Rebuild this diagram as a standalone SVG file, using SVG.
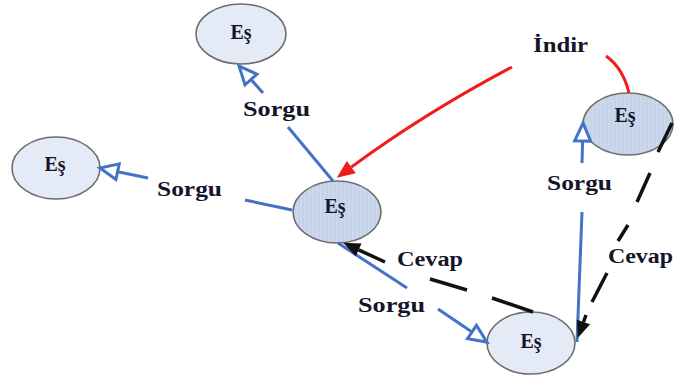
<svg xmlns="http://www.w3.org/2000/svg" width="675" height="380" viewBox="0 0 675 380">
  <style>
    .peer-light { fill: #e5ebf6; stroke: #6e6e6e; stroke-width: 1.6; }
    .peer-dark { fill: url(#grain); stroke: #6e6e6e; stroke-width: 1.6; }
    .name { font-family: "Liberation Serif", "Times New Roman", serif; font-weight: bold; font-size: 20px; fill: #15152a; text-anchor: middle; }
    .lbl { font-family: "Liberation Serif", "Times New Roman", serif; font-weight: bold; font-size: 20px; fill: #15152a; }
    .query { fill: none; stroke: #4472c4; stroke-width: 3; }
    .reply { fill: none; stroke: #111111; stroke-width: 3.5; }
    .download { fill: none; stroke: #f21b1b; stroke-width: 3; }
  </style>
  <defs>
    <pattern id="grain" width="4" height="10" patternUnits="userSpaceOnUse">
      <rect width="4" height="10" fill="#c4d3e9"/>
      <line x1="1" y1="0" x2="1" y2="10" stroke="#d4dff0" stroke-width="1"/>
    </pattern>
    <!-- open triangle head for query links -->
    <marker id="openHead" markerUnits="userSpaceOnUse" markerWidth="24" markerHeight="24" viewBox="-3 -12 24 24" refX="0" refY="0" orient="auto" overflow="visible">
      <path d="M0,-8 L18,0 L0,8 Z" fill="#ffffff" stroke="#4472c4" stroke-width="3" stroke-linejoin="miter"/>
    </marker>
    <!-- filled head for reply links -->
    <marker id="blackHead" markerUnits="userSpaceOnUse" markerWidth="24" markerHeight="24" viewBox="-3 -12 24 24" refX="0" refY="0" orient="auto" overflow="visible">
      <path d="M0,-7 L17,0 L0,7 Z" fill="#111111"/>
    </marker>
    <!-- filled head for the download link -->
    <marker id="redHead" markerUnits="userSpaceOnUse" markerWidth="24" markerHeight="24" viewBox="-3 -12 24 24" refX="0" refY="0" orient="auto" overflow="visible">
      <path d="M0,-7.5 L18,0 L0,7.5 Z" fill="#f21b1b"/>
    </marker>
  </defs>

  <!-- peers -->
  <g id="peer-top">
    <ellipse class="peer-light" cx="241" cy="34" rx="45" ry="30"/>
    <text class="name" x="241" y="39">Eş</text>
  </g>
  <g id="peer-left">
    <ellipse class="peer-light" cx="56" cy="168" rx="44" ry="31"/>
    <text class="name" x="55" y="171">Eş</text>
  </g>
  <g id="peer-center">
    <ellipse class="peer-dark" cx="337" cy="212" rx="44" ry="31"/>
    <text class="name" x="335" y="213">Eş</text>
  </g>
  <g id="peer-bottom">
    <ellipse class="peer-light" cx="531" cy="343" rx="44" ry="31"/>
    <text class="name" x="531" y="348">Eş</text>
  </g>
  <g id="peer-right">
    <ellipse class="peer-dark" cx="628" cy="124" rx="45" ry="31"/>
    <text class="name" x="625" y="122">Eş</text>
  </g>

  <!-- connectors -->
  <g id="connectors">
    <!-- queries (Sorgu) -->
    <line class="query" x1="333" y1="181" x2="288" y2="127"/>
    <line class="query" x1="263" y1="93" x2="251" y2="79.5" marker-end="url(#openHead)"/>

    <line class="query" x1="292" y1="210" x2="245" y2="200"/>
    <line class="query" x1="148" y1="178" x2="117.6" y2="171.7" marker-end="url(#openHead)"/>

    <line class="query" x1="338" y1="243" x2="407" y2="288"/>
    <line class="query" x1="438" y1="309" x2="472" y2="332" marker-end="url(#openHead)"/>

    <line class="query" x1="577" y1="342" x2="582" y2="212"/>
    <line class="query" x1="582" y1="163" x2="582.6" y2="141" marker-end="url(#openHead)"/>

    <!-- replies (Cevap) -->
    <path class="reply" d="M533,312 L492,298 M467,290 L430,279 M385,262 L358.6,249.9" marker-end="url(#blackHead)"/>
    <path class="reply" d="M672,123 L658,152 M650,173 L637,202 M628,225 L618,241 M607,273 L592,302 M586,315 L583.5,322" marker-end="url(#blackHead)"/>

    <!-- download (İndir) -->
    <path class="download" d="M606,56 Q623,68 629,93"/>
    <path class="download" d="M512,67 Q425,113 351.3,167.1" marker-end="url(#redHead)"/>
  </g>

  <!-- link labels -->
  <g id="labels">
    <text class="lbl" x="533" y="52" textLength="55" lengthAdjust="spacingAndGlyphs">İndir</text>
    <text class="lbl" x="243" y="116" textLength="67" lengthAdjust="spacingAndGlyphs">Sorgu</text>
    <text class="lbl" x="157" y="196" textLength="65" lengthAdjust="spacingAndGlyphs">Sorgu</text>
    <text class="lbl" x="397" y="266" textLength="66" lengthAdjust="spacingAndGlyphs">Cevap</text>
    <text class="lbl" x="358" y="312" textLength="67" lengthAdjust="spacingAndGlyphs">Sorgu</text>
    <text class="lbl" x="547" y="190" textLength="65" lengthAdjust="spacingAndGlyphs">Sorgu</text>
    <text class="lbl" x="608" y="263" textLength="65" lengthAdjust="spacingAndGlyphs">Cevap</text>
  </g>
</svg>
